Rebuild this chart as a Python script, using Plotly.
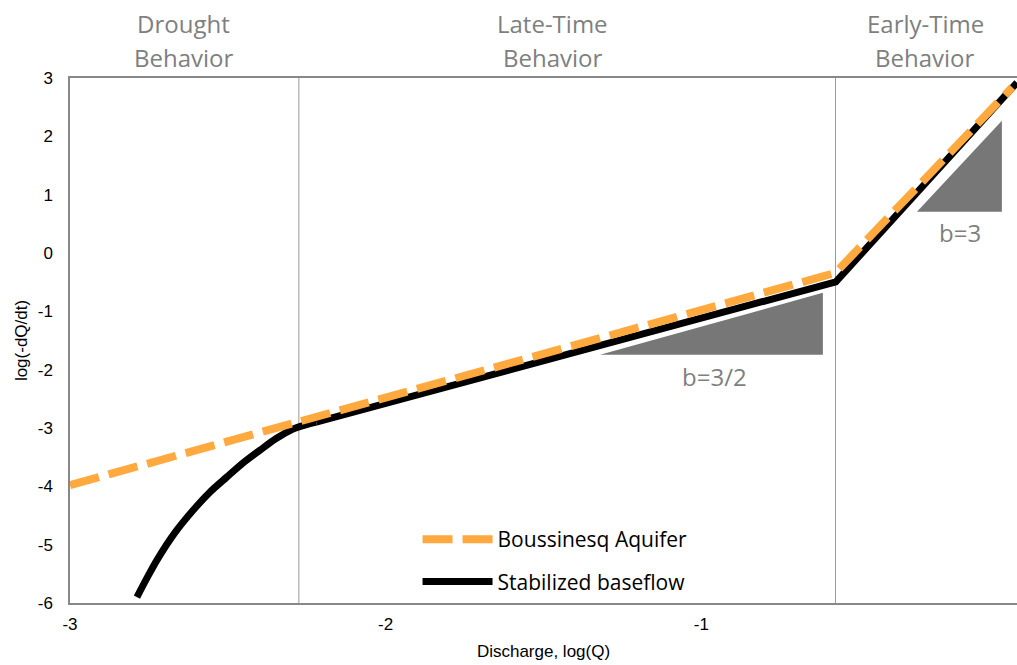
import plotly.graph_objects as go

# ---- data ----
bous_x = [-3.0, -0.575, -0.015]
bous_y = [-3.98, -0.34, 2.84]

# stabilized baseflow: curved drought part and straight part
drought_x = [-2.788, -2.756, -2.724, -2.667, -2.610, -2.557, -2.503, -2.452, -2.398, -2.347, -2.294, -2.275, -2.22]
drought_y = [-5.90, -5.57, -5.26, -4.79, -4.41, -4.10, -3.84, -3.60, -3.38, -3.18, -3.02, -2.98, -2.90]
base_x = [-2.22, -0.574, 0.0]
base_y = [-2.90, -0.494, 2.92]

region_bounds = [-2.275, -0.575]
region_line1 = ["Drought", "Late-Time", "Early-Time"]
region_line2 = ["Behavior", "Behavior", "Behavior"]
region_label_x = [-2.64, -1.47, -0.29]

tri1_x = [-1.321, -0.615, -0.615, -1.321]
tri1_y = [-1.746, -1.746, -0.683, -1.746]
tri2_x = [-0.317, -0.048, -0.048, -0.317]
tri2_y = [0.707, 0.707, 2.268, 0.707]
slope_labels = ["b=3/2", "b=3"]
slope_label_x = [-0.957, -0.181]
slope_label_y = [-2.12, 0.36]

x_ticks = [-3, -2, -1, 0]
x_ticktext = ["-3", "-2", "-1", "0"]
y_ticks = [3, 2, 1, 0, -1, -2, -3, -4, -5, -6]
y_ticktext = ["3", "2", "1", "0", "-1", "-2", "-3", "-4", "-5", "-6"]

ORANGE = "#FFA93E"
GRAY_TRI = "#777777"
GRAY_TXT = "#7F7F7F"

fig = go.Figure()

# triangles
for tx, ty in [(tri1_x, tri1_y), (tri2_x, tri2_y)]:
    fig.add_trace(go.Scatter(x=tx, y=ty, mode="lines", fill="toself",
                             fillcolor=GRAY_TRI, line=dict(width=0, color=GRAY_TRI),
                             showlegend=False, hoverinfo="skip"))

fig.add_trace(go.Scatter(x=drought_x, y=drought_y, mode="lines", showlegend=False,
                         line=dict(color="black", width=7, shape="spline", smoothing=0.8),
                         legendgroup="b"))
fig.add_trace(go.Scatter(x=base_x, y=base_y, mode="lines", name="Stabilized baseflow",
                         line=dict(color="black", width=7), legendrank=2,
                         legendgroup="b"))
fig.add_trace(go.Scatter(x=bous_x, y=bous_y, mode="lines", name="Boussinesq Aquifer",
                         line=dict(color=ORANGE, width=8, dash="30px,10px"), legendrank=1,
                         legendgroup="a"))

for xb in region_bounds:
    fig.add_shape(type="line", x0=xb, x1=xb, y0=-6, y1=3, xref="x", yref="y",
                  line=dict(color="#999999", width=1), layer="below")

for xl, t1, t2 in zip(region_label_x, region_line1, region_line2):
    fig.add_annotation(x=xl, y=1, xref="x", yref="paper", yshift=55, text=t1, showarrow=False,
                       font=dict(family="Open Sans", size=24, color=GRAY_TXT), yanchor="middle")
    fig.add_annotation(x=xl, y=1, xref="x", yref="paper", yshift=21, text=t2, showarrow=False,
                       font=dict(family="Open Sans", size=24, color=GRAY_TXT), yanchor="middle")

for t, xl, yl in zip(slope_labels, slope_label_x, slope_label_y):
    fig.add_annotation(x=xl, y=yl, text=t, showarrow=False,
                       font=dict(family="Open Sans", size=24, color=GRAY_TXT))

fig.update_layout(
    width=1017, height=665,
    margin=dict(l=70, r=0, t=78, b=62),
    plot_bgcolor="white", paper_bgcolor="white",
    font=dict(family="Liberation Sans", size=17, color="black"),
    legend=dict(x=0.367, y=0.16, xanchor="left", yanchor="top",
                font=dict(family="Open Sans", size=21, color="black"),
                bgcolor="rgba(0,0,0,0)", tracegroupgap=12, itemwidth=70),
    xaxis=dict(range=[-3, 0], tickvals=x_ticks, ticktext=x_ticktext, showgrid=False, zeroline=False,
               showline=True, linecolor="#888888", linewidth=1.5, mirror=True,
               ticks="", ticklabelstandoff=5,
               title=dict(text="Discharge, log(Q)", standoff=12, font=dict(size=17))),
    yaxis=dict(range=[-6, 3], tickvals=y_ticks, ticktext=y_ticktext, showgrid=False, zeroline=False,
               showline=True, linecolor="#888888", linewidth=1.5,
               ticks="", ticklabelstandoff=12,
               title=dict(text="log(-dQ/dt)", standoff=6, font=dict(size=17))),
)

fig.write_html("out.html", config={"displayModeBar": False},
               post_script="document.body.style.margin='0';document.body.style.overflow='hidden';")
